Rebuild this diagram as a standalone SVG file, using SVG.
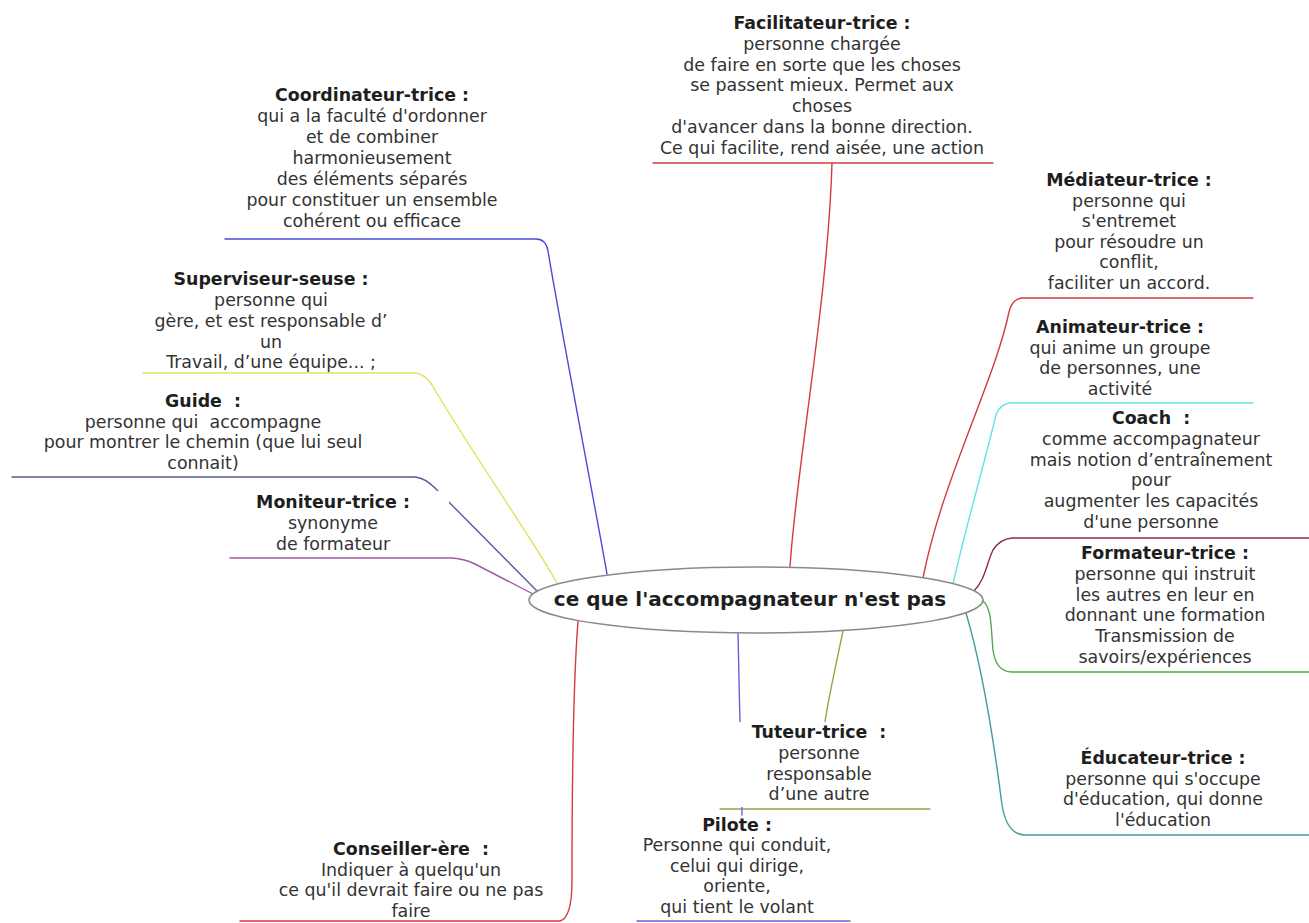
<svg xmlns="http://www.w3.org/2000/svg" width="1309" height="923" viewBox="0 0 1309 923">
<style>
text{font-family:"DejaVu Sans","Verdana",sans-serif;font-size:17.4px;fill:#333;text-anchor:middle}
.t{font-weight:bold;fill:#1e1e1e}
.c{fill:none;stroke-width:1.4;stroke-linecap:round;stroke-linejoin:round}
.bg{fill:#fff;stroke:none}
</style>
<rect width="1309" height="923" fill="#fff"/>
<g id="connectors">
<path class="c" stroke="#d23c3c" d="M653,163 H993 M832,163 C828,300 796,470 790,567"/>
<path class="c" stroke="#4b4bd6" d="M225,239 H536 Q546,239 548,251 C562,335 594,500 607,574"/>
<path class="c" stroke="#e2e25a" d="M143,373 H415 Q425,374 432,385 C470,450 530,535 557,583"/>
<path class="c" stroke="#5a5a96" d="M12,477 H415 Q425,478 435,488 L537,591"/>
<path class="c" stroke="#a05aa0" d="M230,558 H452 Q465,559 475,564 L533,594"/>
<path class="c" stroke="#d23c3c" d="M1253,298 H1022 Q1012,299 1009,312 C995,380 942,480 923,578"/>
<path class="c" stroke="#66e0ea" d="M1253,403 H1010 Q1000,404 996,415 C980,480 965,530 953,584"/>
<path class="c" stroke="#8e2f3a" d="M1309,538 H1012 Q1000,539 993,550 C986,565 985,580 974,591"/>
<path class="c" stroke="#56a84e" d="M983,601 C992,608 991,630 993,650 Q996,672 1012,672 H1309"/>
<path class="c" stroke="#479b9b" d="M966,613 C983,670 995,750 1002,805 Q1007,835 1025,835 H1309"/>
<path class="c" stroke="#9aa348" d="M843,631 C836,665 829,695 825,722 M720,809 H930"/>
<path class="c" stroke="#6363d8" d="M738,633 C739,700 741,760 742,815 M637,921 H850"/>
<path class="c" stroke="#d23c3c" d="M578,621 C575,660 572,720 572,880 Q572,918 560,921 H240"/>
</g>
<g id="center">
<ellipse cx="756" cy="600" rx="227" ry="33" fill="#fff" stroke="#8a8a8a" stroke-width="1.5"/>
<text x="750" y="606" class="t" style="font-size:20px">ce que l'accompagnateur n'est pas</text>
</g>
<g id="facilitateur">
<text x="822" y="29" class="t">Facilitateur-trice :</text>
<text x="822" y="50">personne chargée</text>
<text x="822" y="71">de faire en sorte que les choses</text>
<text x="822" y="91">se passent mieux. Permet aux</text>
<text x="822" y="112">choses</text>
<text x="822" y="133">d'avancer dans la bonne direction.</text>
<text x="822" y="154">Ce qui facilite, rend aisée, une action</text>
</g>
<g id="coordinateur">
<text x="372" y="101" class="t">Coordinateur-trice :</text>
<text x="372" y="122">qui a la faculté d'ordonner</text>
<text x="372" y="143">et de combiner</text>
<text x="372" y="164">harmonieusement</text>
<text x="372" y="185">des éléments séparés</text>
<text x="372" y="206">pour constituer un ensemble</text>
<text x="372" y="227">cohérent ou efficace</text>
</g>
<g id="mediateur">
<text x="1129" y="186" class="t">Médiateur-trice :</text>
<text x="1129" y="207">personne qui</text>
<text x="1129" y="227">s'entremet</text>
<text x="1129" y="248">pour résoudre un</text>
<text x="1129" y="268">conflit,</text>
<text x="1129" y="289">faciliter un accord.</text>
</g>
<g id="superviseur">
<text x="271" y="285" class="t">Superviseur-seuse :</text>
<text x="271" y="306">personne qui</text>
<text x="271" y="327">gère, et est responsable d’</text>
<text x="271" y="348">un</text>
<text x="271" y="368">Travail, d’une équipe... ;</text>
</g>
<g id="guide">
<text x="203" y="407" class="t" xml:space="preserve">Guide  :</text>
<text x="203" y="428" xml:space="preserve">personne qui  accompagne</text>
<text x="203" y="448">pour montrer le chemin (que lui seul</text>
<text x="203" y="469">connait)</text>
</g>
<g id="moniteur">
<rect class="bg" x="240" y="491" width="209" height="63"/>
<text x="333" y="508" class="t">Moniteur-trice :</text>
<text x="333" y="529">synonyme</text>
<text x="333" y="550">de formateur</text>
</g>
<g id="animateur">
<text x="1120" y="333" class="t">Animateur-trice :</text>
<text x="1120" y="354">qui anime un groupe</text>
<text x="1120" y="374">de personnes, une</text>
<text x="1120" y="395">activité</text>
</g>
<g id="coach">
<text x="1151" y="424" class="t" xml:space="preserve">Coach  :</text>
<text x="1151" y="445">comme accompagnateur</text>
<text x="1151" y="466">mais notion d’entraînement</text>
<text x="1151" y="486">pour</text>
<text x="1151" y="507">augmenter les capacités</text>
<text x="1151" y="528">d'une personne</text>
</g>
<g id="formateur">
<text x="1165" y="559" class="t">Formateur-trice :</text>
<text x="1165" y="580">personne qui instruit</text>
<text x="1165" y="601">les autres en leur en</text>
<text x="1165" y="621">donnant une formation</text>
<text x="1165" y="642">Transmission de</text>
<text x="1165" y="663">savoirs/expériences</text>
</g>
<g id="educateur">
<text x="1163" y="764" class="t">Éducateur-trice :</text>
<text x="1163" y="785">personne qui s'occupe</text>
<text x="1163" y="805">d'éducation, qui donne</text>
<text x="1163" y="826">l'éducation</text>
</g>
<g id="tuteur">
<rect class="bg" x="722" y="722" width="206" height="85"/>
<text x="819" y="738" class="t" xml:space="preserve">Tuteur-trice  :</text>
<text x="819" y="759">personne</text>
<text x="819" y="780">responsable</text>
<text x="819" y="800">d’une autre</text>
</g>
<g id="pilote">
<text x="737" y="831" class="t">Pilote :</text>
<text x="737" y="851">Personne qui conduit,</text>
<text x="737" y="872">celui qui dirige,</text>
<text x="737" y="892">oriente,</text>
<text x="737" y="913">qui tient le volant</text>
</g>
<g id="conseiller">
<text x="411" y="855" class="t" xml:space="preserve">Conseiller-ère  :</text>
<text x="411" y="876">Indiquer à quelqu'un</text>
<text x="411" y="896">ce qu'il devrait faire ou ne pas</text>
<text x="411" y="917">faire</text>
</g>
</svg>
